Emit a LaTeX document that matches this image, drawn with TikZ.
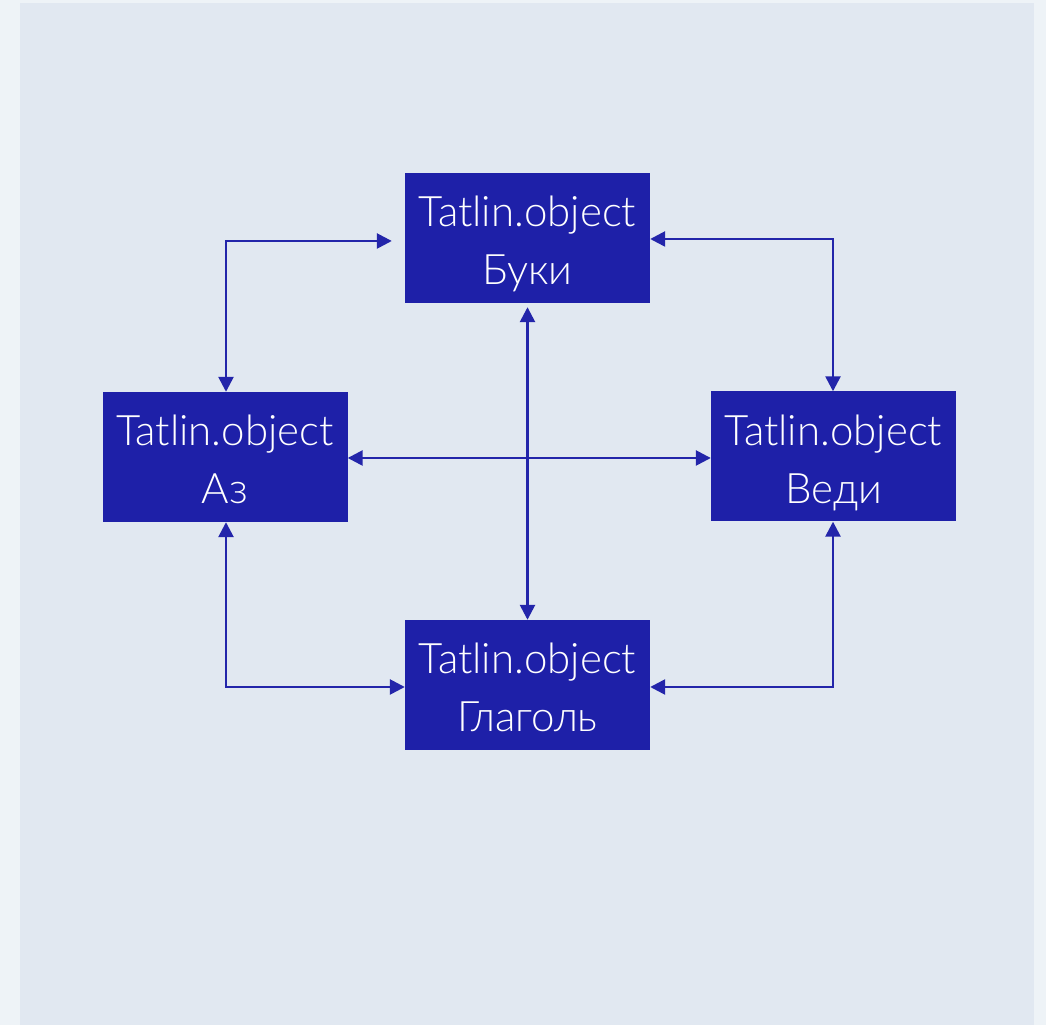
\documentclass[tikz,border=0pt]{standalone}
\usepackage{fontspec}
\newfontfamily\boxfont{Lato Light}
\usetikzlibrary{arrows.meta,positioning}
\definecolor{outerbg}{HTML}{EEF3F7}
\definecolor{panelbg}{HTML}{E1E8F1}
\definecolor{boxblue}{HTML}{1E20A8}
\definecolor{lineblue}{HTML}{2325AA}
\tikzset{
  objbox/.style={fill=boxblue, draw=none, minimum width=245pt, minimum height=130pt,
    inner sep=0pt, text=white, align=center,
    font=\boxfont\fontsize{42}{58}\selectfont, text height=94pt, text depth=0pt},
  conn/.style={draw=lineblue, line width=2.6pt,
    {Triangle[length=15pt,width=15pt]}-{Triangle[length=15pt,width=15pt]}}
}
\begin{document}
\begin{tikzpicture}[x=1pt,y=1pt]
\useasboundingbox (0,0) rectangle (1046,1025);
\fill[outerbg] (0,0) rectangle (1046,1025);
\fill[panelbg] (20,0) rectangle (1034,1022);

\node[objbox] (buki) at (527.5,787) {Tatlin.object\\Буки};
\node[objbox] (az) at (225,568) {Tatlin.object\\Аз};
\node[objbox] (vedi) at (833.5,568.5) {Tatlin.object\\Веди};
\node[objbox] (glagol) at (527.5,340) {Tatlin.object\\Глаголь};

\draw[conn] ([xshift=1pt]az.north) |- ([shift={(-13pt,-3pt)}]buki.west);
\draw[conn] ([yshift=-1pt]buki.east) -| ([xshift=-0.5pt]vedi.north);
\draw[conn, shorten <=4pt] (buki.south) -- (glagol.north);
\draw[conn] ([yshift=-1pt]az.east) -- ([yshift=-1.5pt]vedi.west);
\draw[conn] ([xshift=1pt]az.south) |- ([yshift=-2pt]glagol.west);
\draw[conn] ([xshift=-0.5pt]vedi.south) |- ([yshift=-2pt]glagol.east);
\end{tikzpicture}
\end{document}
